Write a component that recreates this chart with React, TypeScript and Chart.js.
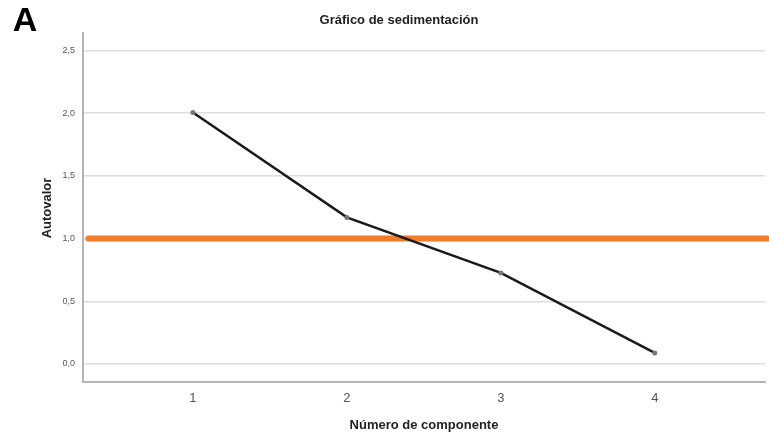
import React, { useEffect, useRef } from "react";
import { Chart, registerables } from "chart.js";

Chart.register(...registerables);

const components = [1, 2, 3, 4];
const eigenvalues = [2.006, 1.169, 0.726, 0.088];
const yTicks = [0, 0.5, 1.0, 1.5, 2.0, 2.5];
const kaiserLevel = 1.0;
const chartTitle = "Gráfico de sedimentación";
const xTitle = "Número de componente";
const yTitle = "Autovalor";
const panelLabel = "A";

const X_MIN = 0.286;
const X_MAX = 4.716;
const Y_MIN = -0.144;
const Y_MAX = 2.64;

const textPlugin = {
  id: "textPlugin",
  afterDraw(chart: any) {
    const ctx = chart.ctx;
    const area = chart.chartArea;
    ctx.save();
    ctx.fillStyle = "#000";
    ctx.textBaseline = "middle";
    ctx.textAlign = "center";
    ctx.font = "bold 34px 'Liberation Sans', Arial, sans-serif";
    ctx.fillText(panelLabel, 25, 22);
    ctx.fillStyle = "#222";
    ctx.font = "bold 13px 'Liberation Sans', Arial, sans-serif";
    ctx.fillText(chartTitle, 399, 20);
    ctx.fillText(xTitle, (area.left + area.right) / 2, 425);
    ctx.translate(47, 208);
    ctx.rotate(-Math.PI / 2);
    ctx.fillText(yTitle, 0, 0);
    ctx.restore();
  },
};

export default function App() {
  const ref = useRef<HTMLCanvasElement | null>(null);
  useEffect(() => {
    document.body.style.margin = "0";
    if (!ref.current) return;
    const chart = new Chart(ref.current, {
      type: "line",
      data: {
        datasets: [
          {
            data: [
              { x: X_MIN + 0.035, y: kaiserLevel },
              { x: X_MAX + 0.02, y: kaiserLevel },
            ],
            borderColor: "#EF7B2B",
            borderWidth: 6,
            borderCapStyle: "round",
            pointRadius: 0,
            clip: false,
            order: 2,
          } as any,
          {
            data: components.map((c, i) => ({ x: c, y: eigenvalues[i] })),
            borderColor: "#1a1a1a",
            borderWidth: 2.5,
            pointRadius: 2.5,
            pointBackgroundColor: "#777",
            pointBorderColor: "#777",
            pointBorderWidth: 0,
            tension: 0,
            order: 1,
          },
        ],
      },
      options: {
        animation: false,
        responsive: false,
        layout: { padding: { top: 33, right: 2, left: 0, bottom: 0 } },
        plugins: { legend: { display: false }, tooltip: { enabled: false }, title: { display: false } },
        scales: {
          x: {
            type: "linear",
            min: X_MIN,
            max: X_MAX,
            afterBuildTicks: (s: any) => {
              s.ticks = components.map((v) => ({ value: v }));
            },
            afterFit: (s: any) => {
              s.height = 53;
            },
            grid: { display: false, drawTicks: false },
            border: { display: true, color: "#b5b5b5", width: 2 },
            ticks: {
              padding: 9,
              color: "#555",
              font: { size: 13, family: "'Liberation Sans', Arial, sans-serif" },
              callback: (v: any) => String(v),
            },
          },
          y: {
            type: "linear",
            min: Y_MIN,
            max: Y_MAX,
            afterBuildTicks: (s: any) => {
              s.ticks = yTicks.map((v) => ({ value: v }));
            },
            afterFit: (s: any) => {
              s.width = 83;
            },
            grid: { color: "#dddddd", lineWidth: 1.5, drawTicks: false },
            border: { display: true, color: "#b5b5b5", width: 2 },
            ticks: {
              padding: 8,
              color: "#555",
              font: { size: 9, family: "'Liberation Sans', Arial, sans-serif" },
              callback: (v: any) => Number(v).toFixed(1).replace(".", ","),
            },
          },
        },
      },
      plugins: [textPlugin],
    } as any);
    return () => chart.destroy();
  }, []);
  return <canvas ref={ref} width={769} height={435} style={{ display: "block", width: 769, height: 435 }} />;
}
